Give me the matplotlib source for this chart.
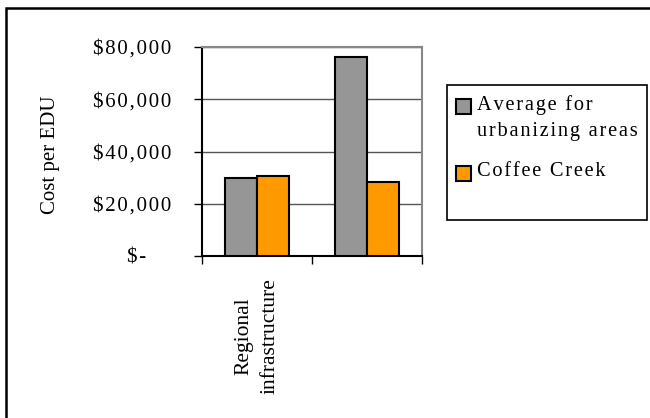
import numpy as np
import matplotlib.pyplot as plt
from matplotlib.patches import Rectangle

plt.rcParams['font.family'] = ['Liberation Serif', 'DejaVu Serif']

# Cost per EDU, two categories (second one unlabeled)
categories = ['Regional\ninfrastructure', '']
avg_urbanizing = [30000, 76000]
coffee_creek = [30700, 28500]
series_names = ['Average for\nurbanizing areas', 'Coffee Creek']
series_colors = ['#969696', '#FF9900']
yticks = [0, 20000, 40000, 60000, 80000]
ytick_labels = ['$-', '$20,000', '$40,000', '$60,000', '$80,000']


def spaced(s, sep='\u200a'):
    # widen the lettering a bit, line by line
    return '\n'.join(sep.join(line) for line in s.split('\n'))


W, H = 650, 418
fig = plt.figure(figsize=(W / 100, H / 100), dpi=100)
ax = fig.add_axes([202 / W, 1 - 256 / H, 220 / W, 209 / H])

x = np.arange(len(categories)) + 0.5
bw = 0.29
ax.bar(x - bw / 2, avg_urbanizing, bw, color=series_colors[0], edgecolor='black', linewidth=1.5, zorder=3)
ax.bar(x + bw / 2, coffee_creek, bw, color=series_colors[1], edgecolor='black', linewidth=1.5, zorder=3)

ax.set_xlim(0, len(categories))
ax.set_ylim(0, 80000)
ax.set_yticks(yticks)
ax.set_yticklabels([spaced(t) for t in ytick_labels], fontsize=15)
ax.yaxis.grid(True, color='#555555', linewidth=1)
ax.set_axisbelow(True)

ax.set_xticks(np.arange(len(categories) + 1))
ax.set_xticklabels([])
ax.set_xticks(x, minor=True)
ax.set_xticklabels(categories, minor=True, rotation=90, fontsize=15.5,
                   va='top', ha='center', multialignment='center',
                   linespacing=1.55)
ax.tick_params(axis='x', which='minor', length=0, pad=16)
ax.tick_params(axis='x', which='major', length=6, width=1, direction='out')
ax.tick_params(axis='y', length=6, width=1, direction='out', pad=16)
# "$-" sits further left than the other labels
ax.yaxis.get_major_ticks()[0].set_pad(34)

for s in ['top', 'right']:
    ax.spines[s].set_color('#888888')
    ax.spines[s].set_linewidth(1.5)
for s in ['left', 'bottom']:
    ax.spines[s].set_color('black')
    ax.spines[s].set_linewidth(1.5)

fig.text(50 / W, 1 - 155 / H, 'Cost per EDU', rotation=90, fontsize=15,
         ha='center', va='center')

# legend box drawn by hand
fig.patches.append(Rectangle((447 / W, 1 - 220 / H), 200 / W, 135 / H,
                             transform=fig.transFigure, facecolor='white',
                             edgecolor='black', linewidth=1.2))
legend_rows = [99, 166]
for name, color, top in zip(series_names, series_colors, legend_rows):
    fig.patches.append(Rectangle((456 / W, 1 - (top + 15) / H), 15 / W, 15 / H,
                                 transform=fig.transFigure, facecolor=color,
                                 edgecolor='black', linewidth=1.5))
    fig.text(477 / W, 1 - (top - 4) / H, spaced(name), fontsize=14.7,
             ha='left', va='top', linespacing=1.5)

# outer chart border
fig.patches.append(Rectangle((6 / W, -0.05), 1.1, 1 - 8 / H + 0.05,
                             transform=fig.transFigure, facecolor='none',
                             edgecolor='black', linewidth=1.8, clip_on=False))

fig.savefig('out.png', dpi=100)
